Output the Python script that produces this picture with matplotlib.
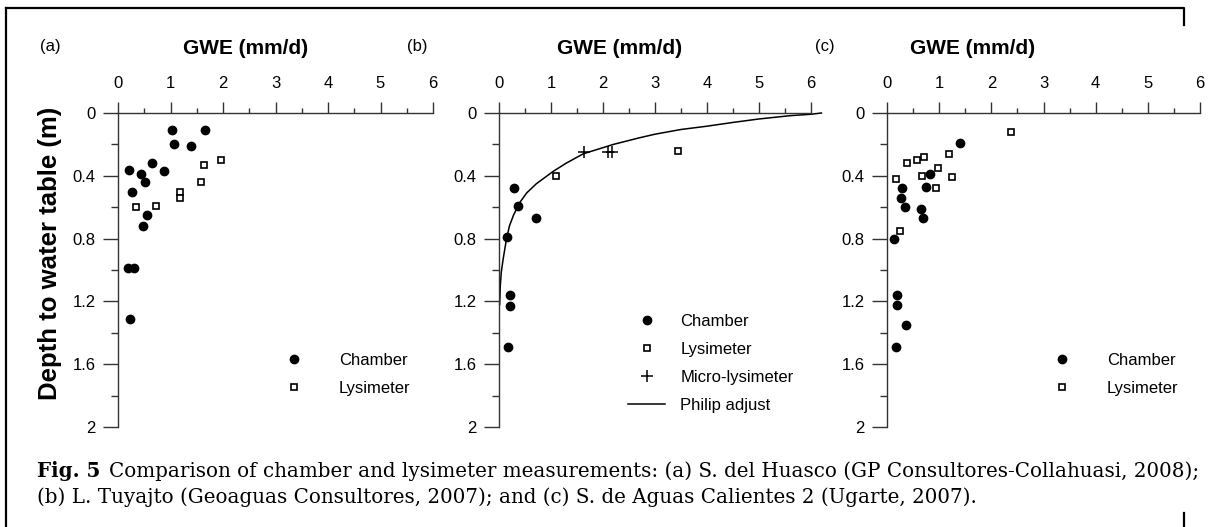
import numpy as np
import matplotlib.pyplot as plt
from matplotlib.lines import Line2D
from matplotlib.ticker import MultipleLocator

plt.rcParams['font.family'] = ['Liberation Sans', 'DejaVu Sans']

# (a) S. del Huasco
a_ch_gwe = [1.02, 1.66, 1.06, 1.39, 0.21, 0.65, 0.88, 0.43, 0.52, 0.27, 0.56, 0.48, 0.19, 0.30, 0.22]
a_ch_dep = [0.11, 0.11, 0.20, 0.21, 0.36, 0.32, 0.37, 0.39, 0.44, 0.50, 0.65, 0.72, 0.99, 0.99, 1.31]
a_ly_gwe = [1.97, 1.64, 1.59, 1.18, 1.18, 0.35, 0.73]
a_ly_dep = [0.30, 0.33, 0.44, 0.50, 0.54, 0.60, 0.59]

# (b) L. Tuyajto
b_ch_gwe = [0.29, 0.36, 0.71, 0.15, 0.21, 0.22, 0.18]
b_ch_dep = [0.48, 0.59, 0.67, 0.79, 1.16, 1.23, 1.49]
b_ly_gwe = [1.09, 3.45]
b_ly_dep = [0.40, 0.24]
b_mi_gwe = [1.63, 2.10, 2.18]
b_mi_dep = [0.25, 0.25, 0.25]
# Philip adjust curve
b_ph_gwe = [6.2, 6.0, 5.6, 5.0, 4.5, 4.0, 3.5, 3.0, 2.7, 2.2, 1.62, 1.29, 1.05, 0.72, 0.53, 0.40,
            0.28, 0.20, 0.14, 0.08, 0.045, 0.025, 0.013]
b_ph_dep = [0.0, 0.008, 0.017, 0.038, 0.06, 0.084, 0.105, 0.135, 0.158, 0.20, 0.26, 0.32, 0.37, 0.45, 0.51, 0.57,
            0.65, 0.72, 0.81, 0.93, 1.01, 1.10, 1.22]

# (c) S. de Aguas Calientes 2
c_ch_gwe = [1.40, 0.29, 0.26, 0.35, 0.74, 0.83, 0.65, 0.69, 0.13, 0.19, 0.20, 0.37, 0.17]
c_ch_dep = [0.19, 0.48, 0.54, 0.60, 0.47, 0.39, 0.61, 0.67, 0.80, 1.16, 1.22, 1.35, 1.49]
c_ly_gwe = [2.37, 1.18, 0.38, 0.58, 0.70, 0.97, 0.68, 1.24, 0.18, 0.93, 0.24]
c_ly_dep = [0.12, 0.26, 0.32, 0.30, 0.28, 0.35, 0.40, 0.41, 0.42, 0.48, 0.75]

y_ticks = [0, 0.4, 0.8, 1.2, 1.6, 2]
y_ticklabels = ['0', '0.4', '0.8', '1.2', '1.6', '2']

W, H = 1208, 527
fig = plt.figure(figsize=(W / 100, H / 100), dpi=100)


def make_axes(left, right):
    ax = fig.add_axes([left / W, 1 - 427 / H, (right - left) / W, 314 / H])
    ax.set_xlim(0, 6)
    ax.set_ylim(2, 0)
    ax.xaxis.tick_top()
    ax.spines['right'].set_visible(False)
    ax.spines['bottom'].set_visible(False)
    for s in ('left', 'top'):
        ax.spines[s].set_linewidth(1.0)
        ax.spines[s].set_color('#333333')
    ax.xaxis.set_major_locator(MultipleLocator(1))
    ax.xaxis.set_minor_locator(MultipleLocator(0.5))
    ax.set_yticks(y_ticks)
    ax.set_yticklabels(y_ticklabels)
    ax.yaxis.set_minor_locator(MultipleLocator(0.2))
    ax.tick_params(axis='x', which='major', direction='out', length=8, width=1, pad=7.5, labelsize=12, colors='#333333', labelcolor='black')
    ax.tick_params(axis='x', which='minor', direction='out', length=3.5, width=1, colors='#333333')
    ax.tick_params(axis='y', which='major', direction='out', length=11, width=1, pad=5, labelsize=12, colors='#333333', labelcolor='black')
    ax.tick_params(axis='y', which='minor', direction='out', length=5, width=1, colors='#333333')
    return ax


ch_style = dict(linestyle='none', marker='o', markersize=6, color='black')
ly_style = dict(linestyle='none', marker='s', markersize=5, markerfacecolor='white',
                markeredgecolor='black', markeredgewidth=1.2)

# panel (a)
ax1 = make_axes(118, 433)
ax1.plot(a_ch_gwe, a_ch_dep, label='Chamber', clip_on=False, **ch_style)
ax1.plot(a_ly_gwe, a_ly_dep, label='Lysimeter', clip_on=False, **ly_style)
ax1.legend(loc='upper left', bbox_to_anchor=(0.5, 0.235), frameon=False, fontsize=12,
           handlelength=2.2, handletextpad=1.6, labelspacing=0.75, borderpad=0, borderaxespad=0)
ax1.set_ylabel('Depth to water table (m)', fontsize=18.5, fontweight='bold')
ax1.yaxis.set_label_coords(-0.178, 0.554)

# panel (b)
ax2 = make_axes(499, 811)
ax2.plot(b_ch_gwe, b_ch_dep, label='Chamber', clip_on=False, **ch_style)
ax2.plot(b_ly_gwe, b_ly_dep, label='Lysimeter', clip_on=False, **ly_style)
ax2.plot(b_mi_gwe, b_mi_dep, label='Micro-lysimeter', linestyle='none', marker='+',
         markersize=8, markeredgewidth=1.1, color='black', clip_on=False)
ax2.plot(b_ph_gwe, b_ph_dep, label='Philip adjust', color='black', linewidth=1.1, clip_on=False)
ax2.legend(loc='upper left', bbox_to_anchor=(0.415, 0.36), frameon=False, fontsize=12,
           handlelength=2.2, handletextpad=0.9, labelspacing=0.78, borderpad=0, borderaxespad=0)

# panel (c)
ax3 = make_axes(887, 1200)
ax3.plot(c_ch_gwe, c_ch_dep, label='Chamber', clip_on=False, **ch_style)
ax3.plot(c_ly_gwe, c_ly_dep, label='Lysimeter', clip_on=False, **ly_style)
ax3.legend(loc='upper left', bbox_to_anchor=(0.5, 0.235), frameon=False, fontsize=12,
           handlelength=2.2, handletextpad=1.6, labelspacing=0.75, borderpad=0, borderaxespad=0)

# panel letters and titles
for lx, tx, lab in [(40, 246, '(a)'), (407, 620, '(b)'), (815, 973, '(c)')]:
    fig.text(lx / W, 1 - 47 / H, lab, fontsize=12, ha='left', va='center')
    fig.text(tx / W, 1 - 48 / H, 'GWE (mm/d)', fontsize=15, fontweight='bold', ha='center', va='center')

# caption
serif = ['DejaVu Serif']
t1 = fig.text(37 / W, 1 - 471 / H, 'Fig. 5', family=serif, fontsize=14.3, fontweight='bold', va='center')
ax3.annotate('Comparison of chamber and lysimeter measurements: (a) S. del Huasco (GP Consultores-Collahuasi, 2008);',
             xy=(1, 0.5), xycoords=t1, xytext=(6, 0), textcoords='offset points',
             family=serif, fontsize=14.3, va='center', annotation_clip=False)
fig.text(37 / W, 1 - 497 / H, '(b) L. Tuyajto (Geoaguas Consultores, 2007); and (c) S. de Aguas Calientes 2 (Ugarte, 2007).',
         family=serif, fontsize=14.3, va='center')

# page frame bits
fig.add_artist(Line2D([6 / W, 6 / W], [0, 1 - 8 / H], color='black', linewidth=1.6))
fig.add_artist(Line2D([6 / W, 1184 / W, 1184 / W], [1 - 8 / H, 1 - 8 / H, 1 - 25 / H], color='black', linewidth=1.6))
fig.add_artist(Line2D([1184 / W, 1184 / W], [1 - 513 / H, 0], color='black', linewidth=1.6))

fig.savefig('out.png', dpi=100)
